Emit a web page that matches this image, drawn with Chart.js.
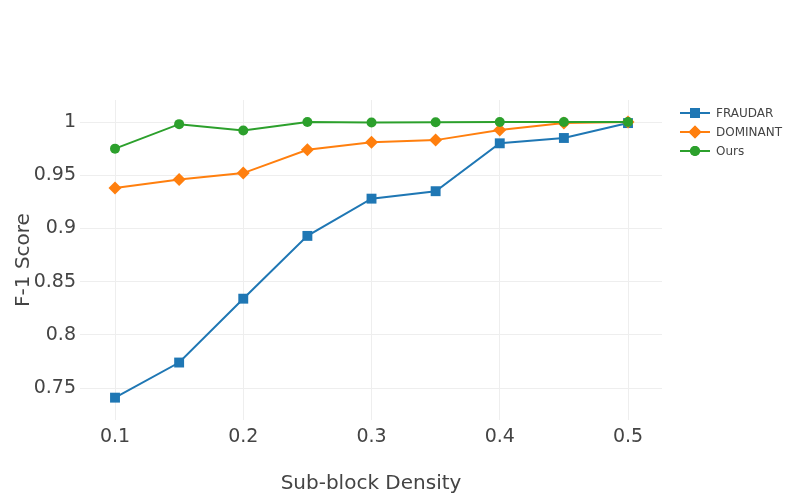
<!DOCTYPE html>
<html>
<head>
<meta charset="utf-8">
<script src="https://cdn.jsdelivr.net/npm/chart.js@4"></script>
<style>
  html, body { margin: 0; padding: 0; background: #fff; }
  #wrap { width: 800px; height: 500px; }
</style>
</head>
<body>
<div id="wrap"><canvas id="myChart" width="800" height="500"></canvas></div>
<script>
const densities = [0.1, 0.15, 0.2, 0.25, 0.3, 0.35, 0.4, 0.45, 0.5];
const fraudar = [0.741, 0.774, 0.834, 0.893, 0.928, 0.935, 0.980, 0.985, 0.999];
const dominant = [0.938, 0.946, 0.952, 0.974, 0.981, 0.983, 0.9925, 0.999, 1.0];
const ours = [0.975, 0.998, 0.992, 1.0, 0.9995, 0.9998, 1.0, 1.0, 1.0];
const xTicks = [0.1, 0.2, 0.3, 0.4, 0.5];
const yTicks = [0.75, 0.8, 0.85, 0.9, 0.95, 1];

const seriesNames = ['FRAUDAR', 'DOMINANT', 'Ours'];
const seriesColors = ['#1f77b4', '#ff7f0e', '#2ca02c'];
const seriesShapes = ['rect', 'rectRot', 'circle'];
const seriesRadius = [7, 6.5, 5];

const FONT = '"DejaVu Sans", Verdana, sans-serif';

const toPoints = vals => vals.map((v, i) => ({ x: densities[i], y: v }));

const datasets = [fraudar, dominant, ours].map((vals, i) => ({
  label: seriesNames[i],
  data: toPoints(vals),
  borderColor: seriesColors[i],
  backgroundColor: seriesColors[i],
  borderWidth: 2,
  pointStyle: seriesShapes[i],
  pointRadius: seriesRadius[i],
  pointBorderWidth: 0,
  pointHoverRadius: seriesRadius[i],
  order: 2 - i,
  clip: false
}));

// plotly-like legend: line with marker, then the name
const sideLegend = {
  id: 'sideLegend',
  afterDraw(chart) {
    const ctx = chart.ctx;
    ctx.save();
    datasets.forEach((ds, i) => {
      const y = 113 + i * 19;
      ctx.strokeStyle = ds.borderColor;
      ctx.lineWidth = 2;
      ctx.beginPath();
      ctx.moveTo(680, y);
      ctx.lineTo(710, y);
      ctx.stroke();
      ctx.fillStyle = ds.backgroundColor;
      Chart.helpers.drawPoint(ctx, { pointStyle: ds.pointStyle, radius: ds.pointRadius, borderWidth: 0 }, 695, y);
      ctx.fill();
      ctx.fillStyle = '#444';
      ctx.font = '12px ' + FONT;
      ctx.textBaseline = 'middle';
      ctx.fillText(ds.label, 716, y + 1);
    });
    ctx.restore();
  }
};

const fmt = v => String(Math.round(v * 100) / 100);

new Chart(document.getElementById('myChart').getContext('2d'), {
  type: 'line',
  data: { datasets: datasets },
  options: {
    responsive: false,
    animation: false,
    layout: { padding: { top: 100, right: 138, left: 0, bottom: 0 } },
    plugins: { legend: { display: false }, tooltip: { enabled: false } },
    scales: {
      x: {
        type: 'linear',
        min: 0.0727,
        max: 0.5265,
        afterBuildTicks: s => { s.ticks = xTicks.map(v => ({ value: v })); },
        afterFit: s => { s.height = 80; },
        grid: { color: '#eee', drawTicks: false },
        border: { display: false },
        ticks: {
          color: '#444',
          font: { family: FONT, size: 19 },
          padding: 6,
          callback: v => fmt(v)
        },
        title: {
          display: true,
          text: 'Sub-block Density',
          color: '#444',
          font: { family: FONT, size: 20 },
          padding: { top: 0, bottom: 4 }
        }
      },
      y: {
        min: 0.72,
        max: 1.0207,
        afterBuildTicks: s => { s.ticks = yTicks.map(v => ({ value: v })); },
        afterFit: s => { s.width = 80; },
        grid: { color: '#eee', drawTicks: false },
        border: { display: false },
        ticks: {
          color: '#444',
          font: { family: FONT, size: 19 },
          padding: 4,
          callback: v => fmt(v)
        },
        title: {
          display: true,
          text: 'F-1 Score',
          color: '#444',
          font: { family: FONT, size: 20 },
          padding: { top: 12, bottom: 0 }
        }
      }
    }
  },
  plugins: [sideLegend]
});
</script>
</body>
</html>
